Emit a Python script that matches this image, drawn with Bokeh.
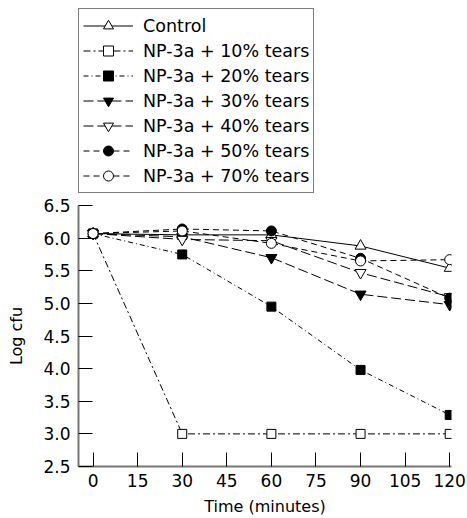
from bokeh.plotting import figure
from bokeh.layouts import column
from bokeh.models import Legend, LegendItem, Range1d, FixedTicker
from bokeh.embed import file_html
from bokeh.resources import INLINE

time_min = [0, 30, 60, 90, 120]
control = [6.07, 6.05, 6.05, 5.88, 5.54]
tears10 = [6.07, 3.00, 3.00, 3.00, 3.00]
tears20 = [6.07, 5.75, 4.95, 3.98, 3.29]
tears30 = [6.07, 6.02, 5.70, 5.14, 4.98]
tears40 = [6.07, 5.98, 5.96, 5.47, 5.10]
tears50 = [6.07, 6.14, 6.11, 5.69, 5.08]
tears70 = [6.07, 6.11, 5.92, 5.65, 5.67]

labels = ["Control", "NP-3a + 10% tears", "NP-3a + 20% tears", "NP-3a + 30% tears",
          "NP-3a + 40% tears", "NP-3a + 50% tears", "NP-3a + 70% tears"]
x_ticks = [0, 15, 30, 45, 60, 75, 90, 105, 120]
y_ticks = [2.5, 3.0, 3.5, 4.0, 4.5, 5.0, 5.5, 6.0, 6.5]

FONT = "DejaVu Sans"

series = [
    (control, "solid", "triangle", "white", 11),
    (tears10, "7 3 2 3", "square", "white", 9),
    (tears20, "5 3 1 3", "square", "black", 9),
    (tears30, "10 4", "inverted_triangle", "black", 11),
    (tears40, "10 4", "inverted_triangle", "white", 11),
    (tears50, "6 4", "circle", "black", 10),
    (tears70, "6 4", "circle", "white", 10),
]

# Legend-only figure on top
lf = figure(width=467, height=193, output_backend="svg", toolbar_location=None,
            x_range=Range1d(-4.9, 120.6), y_range=Range1d(2.5, 6.5),
            x_axis_location=None, y_axis_location=None,
            min_border_left=78, min_border_right=16, min_border_top=0, min_border_bottom=0,
            background_fill_color="white", border_fill_color="white")
lf.outline_line_color = None
lf.grid.visible = False

# Main figure
p = figure(width=467, height=325, output_backend="svg", toolbar_location=None,
           x_range=Range1d(-4.9, 120.6), y_range=Range1d(2.5, 6.5),
           min_border_left=78, min_border_right=16, min_border_top=12,
           background_fill_color="white", border_fill_color="white")
p.outline_line_color = None
p.grid.visible = False

items = []
for (vals, dash, marker, fill, size), lab in zip(series, labels):
    p.line(time_min, vals, line_color="black", line_width=1, line_dash=dash)
    p.scatter(time_min, vals, marker=marker, size=size, fill_color=fill,
              line_color="black", line_width=1)
    ln = lf.line(time_min, vals, line_color="black", line_width=1, line_dash=dash, visible=False)
    sc = lf.scatter(time_min, vals, marker=marker, size=size, fill_color=fill,
                    line_color="black", line_width=1, visible=False)
    items.append(LegendItem(label=lab, renderers=[ln, sc]))

legend = Legend(items=items, location=(0, 0), margin=0, padding=4,
                spacing=0, glyph_height=25, glyph_width=50, label_height=25,
                label_standoff=10, label_text_font=FONT, label_text_font_size="17.5px",
                label_text_color="black", border_line_color="black",
                border_line_width=1, background_fill_alpha=1,
                inactive_fill_alpha=0, click_policy="none")
lf.add_layout(legend, "center")

for ax in (p.xaxis, p.yaxis):
    ax.axis_line_color = "#777777"
    ax.axis_line_width = 2
    ax.major_tick_line_color = "black"
    ax.major_tick_in = 14
    ax.major_tick_out = 0
    ax.minor_tick_line_color = None
    ax.major_label_text_font = FONT
    ax.major_label_text_font_size = "17px"
    ax.major_label_text_color = "black"
    ax.axis_label_text_font = FONT
    ax.axis_label_text_font_size = "16px"
    ax.axis_label_text_font_style = "normal"
    ax.axis_label_text_color = "black"

p.xaxis.major_label_standoff = 7
p.yaxis.major_label_standoff = 8
p.xaxis.ticker = FixedTicker(ticks=x_ticks)
p.yaxis.ticker = FixedTicker(ticks=y_ticks)
p.yaxis.major_label_overrides = {v: f"{v:.1f}" for v in y_ticks}
p.xaxis.axis_label = "Time (minutes)"
p.yaxis.axis_label = "Log cfu"
p.xaxis.axis_label_standoff = 7
p.yaxis.axis_label_standoff = 14

layout = column(lf, p, spacing=0)
open("out.html", "w").write(file_html(layout, INLINE))
